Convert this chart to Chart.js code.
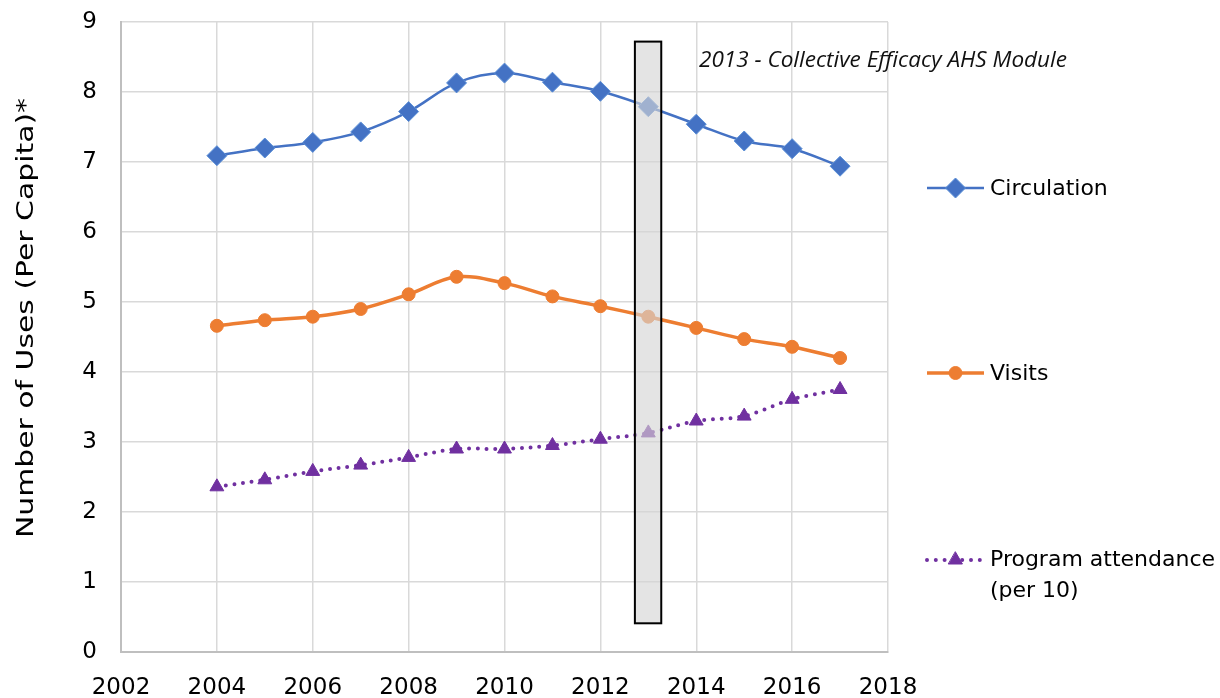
<!DOCTYPE html>
<html>
<head>
<meta charset="utf-8">
<script src="https://cdn.jsdelivr.net/npm/chart.js@4.4.1/dist/chart.umd.min.js"></script>
<style>
  html, body { margin: 0; padding: 0; background: #ffffff; }
  #wrap { width: 1220px; height: 698px; position: relative; }
</style>
</head>
<body>
<div id="wrap"><canvas id="c" width="1220" height="698"></canvas></div>
<script>
// Library usage per capita, 2004-2017
const years = [2004, 2005, 2006, 2007, 2008, 2009, 2010, 2011, 2012, 2013, 2014, 2015, 2016, 2017];
const circulation = [7.09, 7.20, 7.28, 7.43, 7.72, 8.13, 8.27, 8.14, 8.01, 7.79, 7.54, 7.30, 7.19, 6.94];
const visits = [4.66, 4.74, 4.79, 4.90, 5.11, 5.36, 5.27, 5.08, 4.94, 4.79, 4.63, 4.47, 4.36, 4.20];
const programAttendance = [2.36, 2.46, 2.58, 2.67, 2.78, 2.90, 2.90, 2.95, 3.04, 3.13, 3.30, 3.37, 3.61, 3.75];

const xTicks = [2002, 2004, 2006, 2008, 2010, 2012, 2014, 2016, 2018];
const yTicks = [0, 1, 2, 3, 4, 5, 6, 7, 8, 9];

const seriesNames = ['Circulation', 'Visits', 'Program attendance (per 10)'];
const highlightNote = '2013 - Collective Efficacy AHS Module';
const yTitle = 'Number of Uses (Per Capita)*';

// Band around the highlighted year, in axis units
const bandX = [2012.72, 2013.27];
const bandY = [0.41, 8.72];

const BLUE = '#4472C4';
const ORANGE = '#ED7D31';
const PURPLE = '#7030A0';
const FONT = "'DejaVu Sans', sans-serif";

function pts(vals) { return years.map((y, i) => ({ x: y, y: vals[i] })); }

// Grey band with black outline over the highlighted year, plus its note
const bandPlugin = {
  id: 'band',
  afterDatasetsDraw(chart) {
    const { ctx, scales: { x, y } } = chart;
    const l = x.getPixelForValue(bandX[0]), r = x.getPixelForValue(bandX[1]);
    const t = y.getPixelForValue(bandY[1]), b = y.getPixelForValue(bandY[0]);
    ctx.save();
    ctx.fillStyle = 'rgba(212,212,212,0.64)';
    ctx.fillRect(l, t, r - l, b - t);
    ctx.strokeStyle = '#000000';
    ctx.lineWidth = 2;
    ctx.strokeRect(l, t, r - l, b - t);
    // note text
    ctx.font = "italic 22px 'Open Sans', sans-serif";
    ctx.fillStyle = '#111111';
    ctx.textBaseline = 'alphabetic';
    const w = ctx.measureText(highlightNote).width;
    ctx.translate(699, 67);
    ctx.scale(368 / w, 1);
    ctx.fillText(highlightNote, 0, 0);
    ctx.restore();
  }
};

// Vertical axis title and the legend at the right
const sidePlugin = {
  id: 'side',
  afterDraw(chart) {
    const { ctx } = chart;
    ctx.save();
    ctx.fillStyle = '#000000';
    ctx.font = '23px ' + FONT;
    ctx.textAlign = 'center';
    ctx.textBaseline = 'middle';
    const tw = ctx.measureText(yTitle).width;
    ctx.translate(27, 318);
    ctx.rotate(-Math.PI / 2);
    ctx.scale(440 / tw, 1);
    ctx.fillText(yTitle, 0, 0);
    ctx.restore();

    const rows = [188, 373, 560];
    chart.data.datasets.forEach((ds, i) => {
      const y = rows[i];
      ctx.save();
      ctx.strokeStyle = ds.borderColor;
      ctx.lineWidth = ds.borderWidth;
      ctx.lineCap = ds.borderCapStyle || 'butt';
      ctx.setLineDash(ds.borderDash || []);
      ctx.beginPath();
      ctx.moveTo(927, y);
      ctx.lineTo(984, y);
      ctx.stroke();
      ctx.setLineDash([]);
      ctx.fillStyle = ds.pointBackgroundColor;
      ctx.strokeStyle = ds.pointBorderColor;
      ctx.lineWidth = 1;
      Chart.helpers.drawPoint(ctx, {
        pointStyle: ds.pointStyle, radius: ds.pointRadius, borderWidth: 1, rotation: 0
      }, 955.5, y);
      ctx.fillStyle = '#000000';
      ctx.font = '22px ' + FONT;
      ctx.textAlign = 'left';
      ctx.textBaseline = 'middle';
      if (i === 2) {
        ctx.fillText('Program attendance', 990, y);
        ctx.fillText('(per 10)', 990, y + 31);
      } else {
        ctx.fillText(seriesNames[i], 990, y + 1);
      }
      ctx.restore();
    });
  }
};

new Chart(document.getElementById('c'), {
  type: 'line',
  data: {
    datasets: [
      {
        label: seriesNames[0], data: pts(circulation),
        borderColor: BLUE, borderWidth: 2.5, tension: 0.35,
        pointStyle: 'rectRot', pointRadius: 10, pointBackgroundColor: BLUE, pointBorderColor: '#5b8fd6', pointBorderWidth: 1
      },
      {
        label: seriesNames[1], data: pts(visits),
        borderColor: ORANGE, borderWidth: 3.5, tension: 0.35,
        pointStyle: 'circle', pointRadius: 6.5, pointBackgroundColor: ORANGE, pointBorderColor: ORANGE, pointBorderWidth: 1
      },
      {
        label: seriesNames[2], data: pts(programAttendance),
        borderColor: PURPLE, borderWidth: 4, tension: 0.35,
        borderDash: [0, 8.8], borderCapStyle: 'round',
        pointStyle: 'triangle', pointRadius: 8, pointBackgroundColor: PURPLE, pointBorderColor: PURPLE, pointBorderWidth: 1
      }
    ]
  },
  options: {
    responsive: false,
    animation: false,
    layout: { autoPadding: false, padding: { top: 22, right: 332, left: 0, bottom: 0 } },
    plugins: { legend: { display: false }, tooltip: { enabled: false } },
    scales: {
      x: {
        type: 'linear', min: 2002, max: 2018,
        afterBuildTicks: (s) => { s.ticks = xTicks.map(v => ({ value: v })); },
        afterFit: (s) => { s.height = 46; s.paddingLeft = 0; s.paddingRight = 0; },
        ticks: { color: '#000000', font: { family: FONT, size: 23 }, padding: 22, maxRotation: 0, callback: (v) => String(v) },
        grid: { color: '#d9d9d9', lineWidth: 1.5, drawTicks: false },
        border: { color: '#bfbfbf', width: 2 }
      },
      y: {
        min: 0, max: 9,
        afterBuildTicks: (s) => { s.ticks = yTicks.map(v => ({ value: v })); },
        afterFit: (s) => { s.width = 121; s.paddingTop = 0; s.paddingBottom = 0; },
        ticks: { color: '#000000', font: { family: FONT, size: 23 }, padding: 24 },
        grid: { color: '#d9d9d9', lineWidth: 1.5, drawTicks: false },
        border: { color: '#bfbfbf', width: 2 }
      }
    }
  },
  plugins: [bandPlugin, sidePlugin]
});
</script>
</body>
</html>
